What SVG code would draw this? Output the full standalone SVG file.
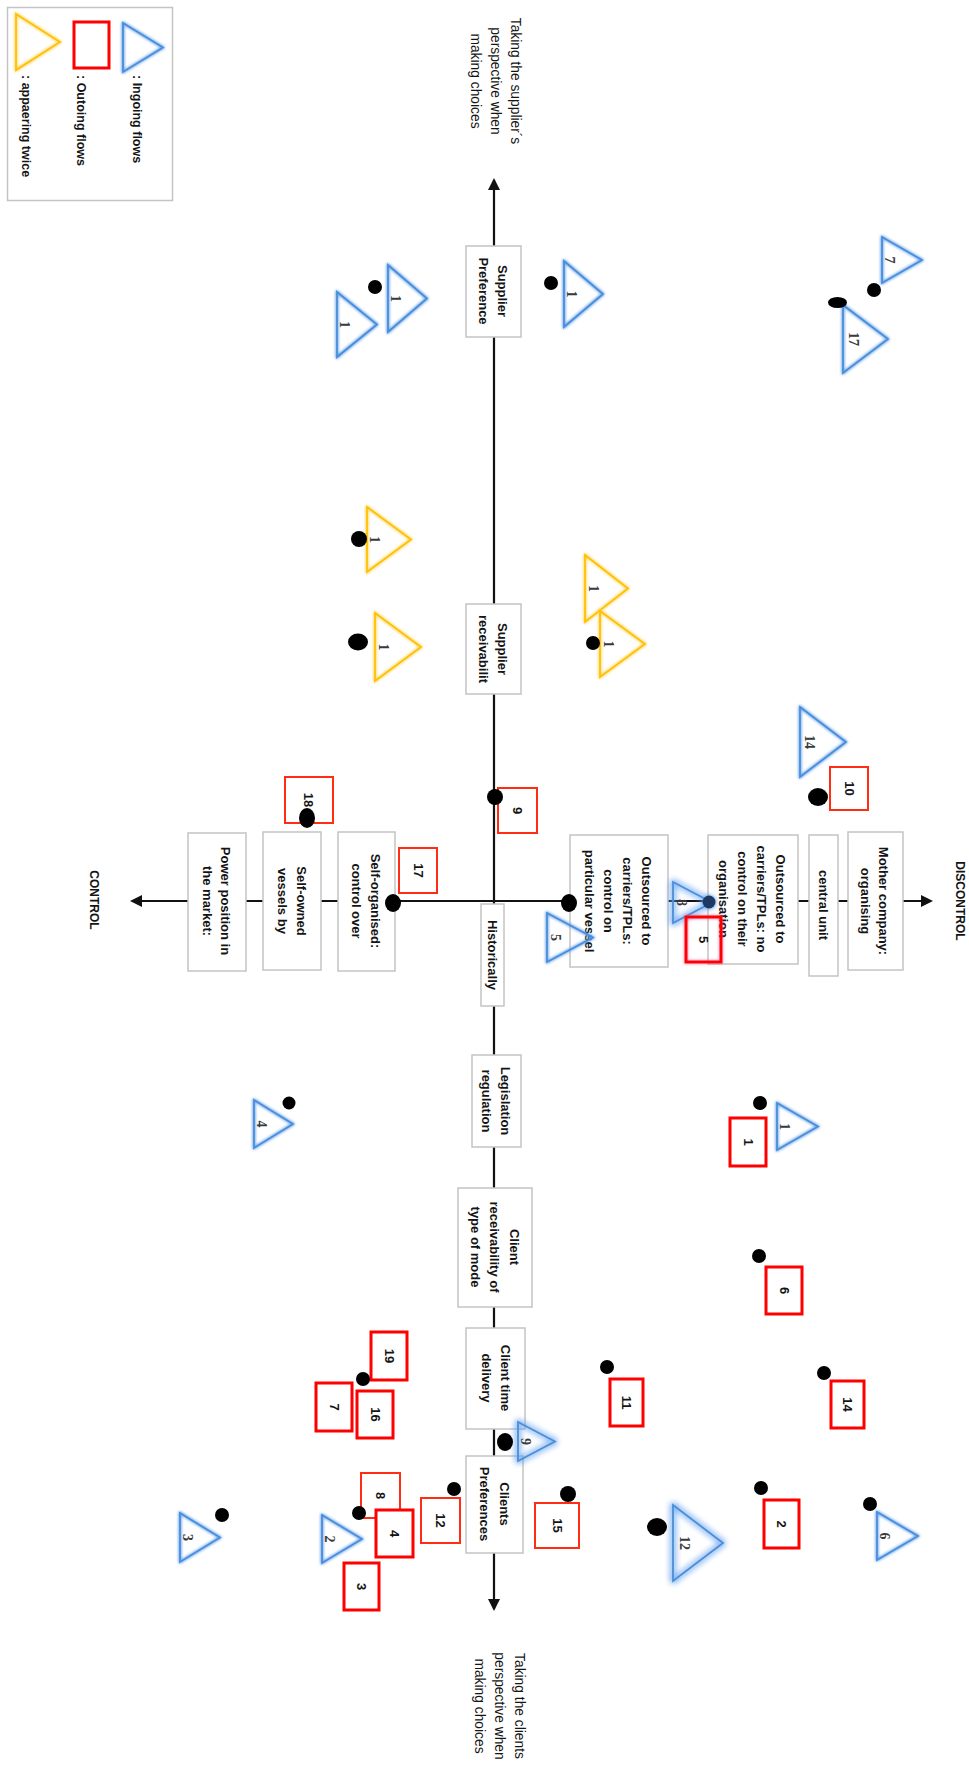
<svg xmlns="http://www.w3.org/2000/svg" width="969" height="1772" viewBox="0 0 969 1772">
  <defs>
    <style>
      .box { fill: #fff; stroke: #c4c4c4; stroke-width: 1.5; }
      .axis { fill: none; stroke: #111; stroke-width: 2.2; }
      .bx { font-family: "Liberation Sans", Arial, sans-serif; font-weight: 700; font-size: 13px; fill: #141414; text-anchor: middle; dominant-baseline: central; }
      .ax { font-family: "Liberation Sans", Arial, sans-serif; font-size: 13.8px; fill: #141414; text-anchor: middle; dominant-baseline: central; }
      .cap { font-family: "Liberation Sans", Arial, sans-serif; font-weight: 700; font-size: 12px; fill: #141414; text-anchor: middle; dominant-baseline: central; }
      .leg { font-family: "Liberation Sans", Arial, sans-serif; font-weight: 700; font-size: 12.5px; fill: #141414; dominant-baseline: central; }
      .num { font-family: "Liberation Sans", Arial, sans-serif; font-weight: 700; font-size: 13px; fill: #141414; text-anchor: middle; dominant-baseline: central; }
      .tn { font-family: "Liberation Serif", "Times New Roman", serif; font-weight: 700; font-size: 14px; fill: #3a3a3a; text-anchor: middle; dominant-baseline: central; }
      .tin { fill: none; stroke: #4a8fd8; stroke-width: 1.8; filter: url(#glowB); }
      .tin2 { fill: none; stroke: #4a8fd8; stroke-width: 1.8; filter: url(#glowB2); }
      .tyl { fill: none; stroke: #ffc000; stroke-width: 1.8; filter: url(#glowY); }
      .rout { fill: #fff; stroke: #ff0000; stroke-width: 3; }
      .rout2 { fill: #fff; stroke: #ff2d14; stroke-width: 2; }
      .dot { fill: #000; }
    </style>
    <filter id="glowB" x="-40%" y="-40%" width="180%" height="180%">
      <feGaussianBlur in="SourceAlpha" stdDeviation="1.8" result="b"/>
      <feFlood flood-color="#5f9cf0" flood-opacity="0.9"/>
      <feComposite operator="in" in2="b" result="g"/>
      <feMerge><feMergeNode in="g"/><feMergeNode in="g"/><feMergeNode in="SourceGraphic"/></feMerge>
    </filter>
    <filter id="glowB2" x="-50%" y="-50%" width="200%" height="200%">
      <feGaussianBlur in="SourceAlpha" stdDeviation="3.2" result="b"/>
      <feFlood flood-color="#5f9cf0" flood-opacity="0.9"/>
      <feComposite operator="in" in2="b" result="g"/>
      <feMerge><feMergeNode in="g"/><feMergeNode in="g"/><feMergeNode in="g"/><feMergeNode in="SourceGraphic"/></feMerge>
    </filter>
    <filter id="glowY" x="-40%" y="-40%" width="180%" height="180%">
      <feGaussianBlur in="SourceAlpha" stdDeviation="1.8" result="b"/>
      <feFlood flood-color="#ffd24d" flood-opacity="0.9"/>
      <feComposite operator="in" in2="b" result="g"/>
      <feMerge><feMergeNode in="g"/><feMergeNode in="g"/><feMergeNode in="SourceGraphic"/></feMerge>
    </filter>
    <filter id="glowR" x="-40%" y="-40%" width="180%" height="180%">
      <feGaussianBlur in="SourceAlpha" stdDeviation="1.6" result="b"/>
      <feFlood flood-color="#e8477a" flood-opacity="0.8"/>
      <feComposite operator="in" in2="b" result="g"/>
      <feMerge><feMergeNode in="g"/><feMergeNode in="SourceGraphic"/></feMerge>
    </filter>
    <filter id="glowD" x="-80%" y="-80%" width="260%" height="260%">
      <feGaussianBlur in="SourceAlpha" stdDeviation="2" result="b"/>
      <feFlood flood-color="#4f8fe0" flood-opacity="0.9"/>
      <feComposite operator="in" in2="b" result="g"/>
      <feMerge><feMergeNode in="g"/><feMergeNode in="SourceGraphic"/></feMerge>
    </filter>
    <marker id="arr" viewBox="0 0 12 12" markerWidth="12" markerHeight="12" refX="10" refY="6" orient="auto-start-reverse" markerUnits="userSpaceOnUse">
      <path d="M0,0 L12,6 L0,12 Z" fill="#111"/>
    </marker>
  </defs>

  <rect width="969" height="1772" fill="#fff"/>

  <!-- legend -->
  <g id="legend">
    <rect x="7.5" y="7.5" width="165" height="193" fill="#fff" stroke="#c4c4c4" stroke-width="1.5"/>
    <path class="tin" d="M123 23 L163 47.5 L123 72 Z"/>
    <rect class="rout" x="74" y="22" width="35" height="46"/>
    <path class="tyl" d="M16 14 L60 42 L16 70 Z"/>
    <text class="leg" transform="translate(137,75) rotate(90)">: Ingoing flows</text>
    <text class="leg" transform="translate(81,75) rotate(90)">: Outoing flows</text>
    <text class="leg" transform="translate(26,75) rotate(90)">: appaering twice</text>
  </g>

  <!-- axes -->
  <g id="connectors">
    <path class="axis" d="M494 1609 L494 180" marker-start="url(#arr)" marker-end="url(#arr)"/>
    <path class="axis" d="M132 901 L931 901" marker-start="url(#arr)" marker-end="url(#arr)"/>
  </g>

  <!-- axis captions -->
  <g id="cap-top">
    <text class="ax" transform="translate(496,81) rotate(90)"><tspan x="0" y="-20">Taking the supplier´s</tspan><tspan x="0" y="0">perspective when</tspan><tspan x="0" y="20">making choices</tspan></text>
  </g>
  <g id="cap-bottom">
    <text class="ax" transform="translate(500,1706) rotate(90)"><tspan x="0" y="-20">Taking the clients</tspan><tspan x="0" y="0">perspective when</tspan><tspan x="0" y="20">making choices</tspan></text>
  </g>
  <g id="cap-control">
    <text class="cap" transform="translate(94,900) rotate(90)">CONTROL</text>
  </g>
  <g id="cap-discontrol">
    <text class="cap" transform="translate(960,901) rotate(90)">DISCONTROL</text>
  </g>

  <!-- boxes on the supplier/client axis -->
  <g id="supplier-preference">
    <rect class="box" x="466" y="246" width="55" height="91"/>
    <text class="bx" transform="translate(493.5,291) rotate(90)"><tspan x="0" y="-9.5">Supplier</tspan><tspan x="0" y="9.5">Preference</tspan></text>
  </g>
  <g id="supplier-receivability">
    <rect class="box" x="466" y="604" width="55" height="90"/>
    <text class="bx" transform="translate(493.5,649) rotate(90)"><tspan x="0" y="-9.5">Supplier</tspan><tspan x="0" y="9.5">receivabilit</tspan></text>
  </g>
  <g id="historically">
    <rect class="box" x="481" y="904" width="23" height="102"/>
    <text class="bx" transform="translate(492.5,955) rotate(90)">Historically</text>
  </g>
  <g id="legislation">
    <rect class="box" x="472" y="1055" width="49" height="92"/>
    <text class="bx" transform="translate(496,1101) rotate(90)"><tspan x="0" y="-9.5">Legislation</tspan><tspan x="0" y="9.5">regulation</tspan></text>
  </g>
  <g id="client-receivability">
    <rect class="box" x="458" y="1188" width="74" height="119"/>
    <text class="bx" transform="translate(495,1247) rotate(90)"><tspan x="0" y="-19.5">Client</tspan><tspan x="0" y="0">receivability of</tspan><tspan x="0" y="19.5">type of mode</tspan></text>
  </g>
  <g id="client-time">
    <rect class="box" x="466" y="1328" width="59" height="101"/>
    <text class="bx" transform="translate(496,1378) rotate(90)"><tspan x="0" y="-9.5">Client time</tspan><tspan x="0" y="9.5">delivery</tspan></text>
  </g>
  <g id="clients-preferences">
    <rect class="box" x="466" y="1456" width="57" height="97"/>
    <text class="bx" transform="translate(495,1504) rotate(90)"><tspan x="0" y="-10">Clients</tspan><tspan x="0" y="10">Preferences</tspan></text>
  </g>

  <!-- boxes on the control axis -->
  <g id="power-position">
    <rect class="box" x="188" y="833" width="58" height="138"/>
    <text class="bx" transform="translate(217,901) rotate(90)"><tspan x="0" y="-9">Power position in</tspan><tspan x="0" y="9">the market:</tspan></text>
  </g>
  <g id="self-owned">
    <rect class="box" x="263" y="832" width="58" height="138"/>
    <text class="bx" transform="translate(292,901) rotate(90)"><tspan x="0" y="-9.5">Self-owned</tspan><tspan x="0" y="9.5">vessels by</tspan></text>
  </g>
  <g id="self-organised">
    <rect class="box" x="338" y="832" width="57" height="139"/>
    <text class="bx" transform="translate(366,901) rotate(90)"><tspan x="0" y="-9.5">Self-organised:</tspan><tspan x="0" y="9.5">control over</tspan></text>
  </g>
  <g id="outsourced-vessel">
    <rect class="box" x="570" y="835" width="98" height="132"/>
    <text class="bx" transform="translate(618,901) rotate(90)"><tspan x="0" y="-28.5">Outsourced to</tspan><tspan x="0" y="-9.5">carriers/TPLs:</tspan><tspan x="0" y="9.5">control on</tspan><tspan x="0" y="28.5">particular vessel</tspan></text>
  </g>
  <g id="outsourced-organisation">
    <rect class="box" x="708" y="835" width="90" height="129"/>
    <text class="bx" transform="translate(752,899) rotate(90)"><tspan x="0" y="-28.5">Outsourced to</tspan><tspan x="0" y="-9.5">carriers/TPLs: no</tspan><tspan x="0" y="9.5">control on their</tspan><tspan x="0" y="28.5">organisation</tspan></text>
  </g>
  <g id="central-unit">
    <rect class="box" x="809" y="835" width="29" height="141"/>
    <text class="bx" transform="translate(823.5,905) rotate(90)">central unit</text>
  </g>
  <g id="mother-company">
    <rect class="box" x="848" y="832" width="55" height="138"/>
    <text class="bx" transform="translate(875,901) rotate(90)"><tspan x="0" y="-9">Mother company:</tspan><tspan x="0" y="9">organising</tspan></text>
  </g>

  <!-- ingoing flows -->
  <g id="in-1a"><path class="tin" d="M337 292 L377 324.5 L337 357 Z"/><text class="tn" transform="translate(344,324.5) rotate(90)">1</text></g>
  <g id="in-1b"><path class="tin" d="M388 265 L427 298.5 L388 332 Z"/><text class="tn" transform="translate(395,298.5) rotate(90)">1</text><circle class="dot" cx="375" cy="287" r="7"/></g>
  <g id="in-1c"><path class="tin" d="M564 261 L603 294 L564 327 Z"/><text class="tn" transform="translate(571,294) rotate(90)">1</text><circle class="dot" cx="551" cy="283" r="7"/></g>
  <g id="in-7"><path class="tin" d="M882 237 L922 260 L882 283 Z"/><text class="tn" transform="translate(889,260) rotate(90)">7</text><circle class="dot" cx="874" cy="290" r="7"/></g>
  <g id="in-17"><path class="tin" d="M843 305 L888 339 L843 373 Z"/><text class="tn" transform="translate(853,339) rotate(90)">17</text><ellipse class="dot" cx="837.5" cy="302.5" rx="9.5" ry="5.5"/></g>
  <g id="in-14"><path class="tin" d="M800 707 L846 742 L800 777 Z"/><text class="tn" transform="translate(809,742) rotate(90)">14</text></g>
  <g id="in-8"><path class="tin2" d="M673 882 L712 902.5 L673 923 Z" fill="#fff"/><text class="tn" transform="translate(681,902.5) rotate(90)">8</text><circle cx="709" cy="902" r="6.5" fill="#1f3864" filter="url(#glowD)"/></g>
  <g id="in-5"><path class="tin" d="M547 913 L593 937.5 L547 962 Z"/><text class="tn" transform="translate(555,937.5) rotate(90)">5</text></g>
  <g id="in-4"><path class="tin" d="M254 1100 L293 1124 L254 1148 Z"/><text class="tn" transform="translate(261,1124) rotate(90)">4</text><circle class="dot" cx="289" cy="1103" r="6.5"/></g>
  <g id="in-1d"><path class="tin" d="M777 1103 L818 1126.5 L777 1150 Z"/><text class="tn" transform="translate(784,1126.5) rotate(90)">1</text><circle class="dot" cx="760" cy="1103" r="7"/></g>
  <g id="in-9"><path class="tin2" d="M518 1422 L555 1441.5 L518 1461 Z"/><text class="tn" transform="translate(525,1441.5) rotate(90)">9</text><ellipse class="dot" cx="505" cy="1442" rx="8" ry="9"/></g>
  <g id="in-12"><path class="tin2" d="M673 1505 L723 1543 L673 1581 Z"/><text class="tn" transform="translate(684,1543) rotate(90)">12</text><ellipse class="dot" cx="657" cy="1527" rx="10" ry="9"/></g>
  <g id="in-6"><path class="tin" d="M877 1512 L918 1536 L877 1560 Z"/><text class="tn" transform="translate(884,1536) rotate(90)">6</text><circle class="dot" cx="870" cy="1504" r="7"/></g>
  <g id="in-2"><path class="tin" d="M322 1515 L362 1539 L322 1563 Z"/><text class="tn" transform="translate(329,1539) rotate(90)">2</text></g>
  <g id="in-3"><path class="tin" d="M180 1513 L220 1537.5 L180 1562 Z"/><text class="tn" transform="translate(187,1537.5) rotate(90)">3</text><circle class="dot" cx="222" cy="1515" r="7"/></g>

  <!-- flows appearing twice -->
  <g id="twice-1a"><path class="tyl" d="M367 507 L411 539.5 L367 572 Z"/><text class="tn" transform="translate(374,539.5) rotate(90)">1</text><circle class="dot" cx="359" cy="539" r="8"/></g>
  <g id="twice-1b"><path class="tyl" d="M375 613 L421 647 L375 681 Z"/><text class="tn" transform="translate(383,647) rotate(90)">1</text><ellipse class="dot" cx="358" cy="642" rx="10" ry="8.5"/></g>
  <g id="twice-1c"><path class="tyl" d="M585 555 L628 588.5 L585 622 Z"/><text class="tn" transform="translate(593,588.5) rotate(90)">1</text></g>
  <g id="twice-1d"><path class="tyl" d="M600 611 L645 644 L600 677 Z"/><text class="tn" transform="translate(608,644) rotate(90)">1</text><circle class="dot" cx="593" cy="643" r="7"/></g>

  <!-- outgoing flows -->
  <g id="out-9"><rect class="rout2" x="498" y="788" width="39" height="45"/><text class="num" transform="translate(517.5,810.5) rotate(90)">9</text><circle class="dot" cx="495" cy="797" r="8"/></g>
  <g id="out-10"><rect class="rout2" x="830" y="767" width="38" height="43"/><text class="num" transform="translate(849,788.5) rotate(90)">10</text><ellipse class="dot" cx="818" cy="797" rx="10" ry="9"/></g>
  <g id="out-18"><rect class="rout2" x="285" y="777" width="48" height="46"/><text class="num" transform="translate(308,800) rotate(90)">18</text><ellipse class="dot" cx="307" cy="818" rx="8" ry="10"/></g>
  <g id="out-17"><rect class="rout2" x="399" y="848" width="38" height="45"/><text class="num" transform="translate(418,870.5) rotate(90)">17</text></g>
  <g id="out-5"><rect class="rout" x="686" y="917" width="35" height="45" filter="url(#glowR)" style="fill:none"/><text class="num" transform="translate(703.5,939.5) rotate(90)">5</text></g>
  <g id="out-1"><rect class="rout" x="730" y="1118" width="36" height="48"/><text class="num" transform="translate(748,1142) rotate(90)">1</text></g>
  <g id="out-6"><rect class="rout" x="766" y="1267" width="36" height="47"/><text class="num" transform="translate(784,1290.5) rotate(90)">6</text><circle class="dot" cx="759" cy="1256" r="7"/></g>
  <g id="out-19"><rect class="rout" x="371" y="1332" width="36" height="48"/><text class="num" transform="translate(389,1356) rotate(90)">19</text></g>
  <g id="out-7"><rect class="rout" x="316" y="1383" width="36" height="48"/><text class="num" transform="translate(334,1407) rotate(90)">7</text></g>
  <g id="out-16"><rect class="rout" x="357" y="1391" width="36" height="47"/><text class="num" transform="translate(375,1414.5) rotate(90)">16</text><circle class="dot" cx="363" cy="1379" r="7"/></g>
  <g id="out-11"><rect class="rout" x="610" y="1379" width="33" height="47"/><text class="num" transform="translate(626.5,1402.5) rotate(90)">11</text><circle class="dot" cx="607" cy="1367" r="7"/></g>
  <g id="out-14"><rect class="rout" x="831" y="1381" width="33" height="47"/><text class="num" transform="translate(847.5,1404.5) rotate(90)">14</text><circle class="dot" cx="824" cy="1373" r="7"/></g>
  <g id="out-8"><rect class="rout2" x="361" y="1473" width="39" height="45"/><text class="num" transform="translate(380.5,1495.5) rotate(90)">8</text></g>
  <g id="out-12"><rect class="rout2" x="421" y="1498" width="39" height="45"/><text class="num" transform="translate(440.5,1520.5) rotate(90)">12</text><circle class="dot" cx="454" cy="1489" r="7"/></g>
  <g id="out-15"><rect class="rout2" x="535" y="1503" width="44" height="45"/><text class="num" transform="translate(557,1525.5) rotate(90)">15</text><circle class="dot" cx="568" cy="1494" r="8"/></g>
  <g id="out-2"><rect class="rout" x="764" y="1500" width="35" height="48"/><text class="num" transform="translate(781.5,1524) rotate(90)">2</text><circle class="dot" cx="761" cy="1488" r="7"/></g>
  <g id="out-4"><rect class="rout" x="376" y="1510" width="37" height="47"/><text class="num" transform="translate(394.5,1533.5) rotate(90)">4</text></g>
  <g id="out-3"><rect class="rout" x="344" y="1563" width="35" height="47"/><text class="num" transform="translate(361.5,1586.5) rotate(90)">3</text></g>

  <!-- markers sitting on the axes -->
  <g id="axis-dots">
    <circle class="dot" cx="359" cy="1513" r="7"/>
    <ellipse class="dot" cx="393" cy="903" rx="8" ry="9"/>
    <ellipse class="dot" cx="569" cy="903" rx="8" ry="9"/>
  </g>
</svg>
